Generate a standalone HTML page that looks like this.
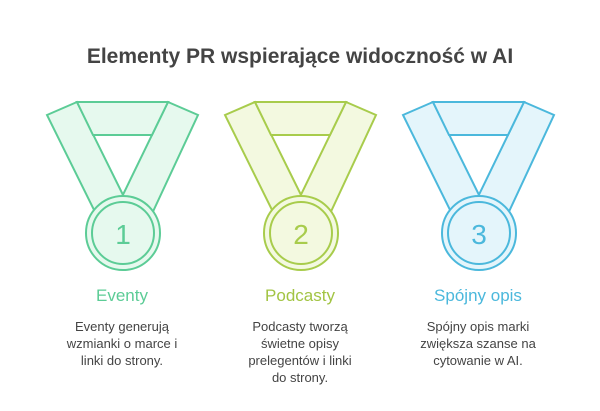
<!DOCTYPE html>
<html><head><style>
body{margin:0;width:600px;height:411px;background:#fff;font-family:"Liberation Sans","DejaVu Sans",sans-serif;position:relative;overflow:hidden}
.t{position:absolute;top:45px;left:0;width:600px;text-align:center;font-size:21px;font-weight:bold;color:#444}
.l{position:absolute;top:286px;width:180px;text-align:center;font-size:17px}
.d{position:absolute;top:318px;width:160px;text-align:center;font-size:13px;line-height:17px;color:#444}
</style></head><body>
<div class="t">Elementy PR wspierające widoczność w AI</div>
<svg width="600" height="411" style="position:absolute;left:0;top:0">
<defs>
<g id="m">
<polygon points="-75,13 -45,0 6,103 -24,116" />
<polygon points="46,0 76,13 28,116 -4,103" />
<polygon points="-45,0 46,0 30,33 -29,33" />
<circle cx="1" cy="131" r="37"/>
<circle cx="1" cy="131" r="31"/>
</g>
</defs>
<g transform="translate(122,102)" fill="#e6f9ee" stroke="#5ccc96" stroke-width="2"><use href="#m"/></g>
<g transform="translate(300,102)" fill="#f3f9e0" stroke="#a8cc4c" stroke-width="2"><use href="#m"/></g>
<g transform="translate(478,102)" fill="#e4f5fb" stroke="#4bb8dc" stroke-width="2"><use href="#m"/></g>
<g font-family="Liberation Sans,sans-serif" font-size="28" text-anchor="middle">
<text x="123" y="244" fill="#5ccc96">1</text>
<text x="301" y="244" fill="#a8cc4c">2</text>
<text x="479" y="244" fill="#4bb8dc">3</text>
</g>
</svg>
<div class="l" style="left:32px;color:#5ccc96">Eventy</div>
<div class="l" style="left:210px;color:#a2c443">Podcasty</div>
<div class="l" style="left:388px;color:#4bb8dc">Spójny opis</div>
<div class="d" style="left:42px">Eventy generują<br>wzmianki o marce i<br>linki do strony.</div>
<div class="d" style="left:220px">Podcasty tworzą<br>świetne opisy<br>prelegentów i linki<br>do strony.</div>
<div class="d" style="left:398px">Spójny opis marki<br>zwiększa szanse na<br>cytowanie w AI.</div>
</body></html>
